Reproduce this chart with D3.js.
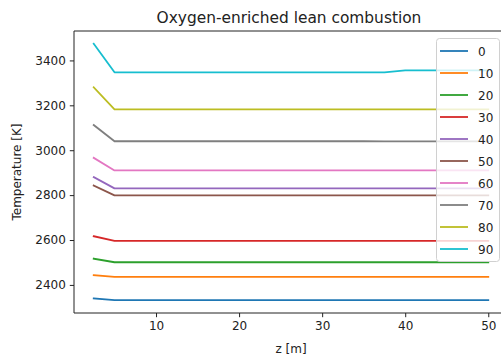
<!DOCTYPE html>
<html>
<head>
<meta charset="utf-8">
<script src="https://cdn.jsdelivr.net/npm/d3@7"></script>
<style>
  body { margin: 0; background: #fff; }
  text { font-family: "DejaVu Sans", sans-serif; fill: #222; }
</style>
</head>
<body>
<div id="chart"></div>
<script>
// axial positions [m]
const zValues = [2.5, 5, 7.5, 10, 12.5, 15, 17.5, 20, 22.5, 25, 27.5, 30, 32.5, 35, 37.5, 40, 42.5, 45, 47.5, 50];

// O2 enrichment levels (legend labels)
const labels = ["0", "10", "20", "30", "40", "50", "60", "70", "80", "90"];

// temperature [K] per enrichment level
const t0  = [2340, 2332, 2332, 2332, 2332, 2332, 2332, 2332, 2332, 2332, 2332, 2332, 2332, 2332, 2332, 2332, 2332, 2332, 2332, 2332];
const t10 = [2443, 2436, 2436, 2436, 2436, 2436, 2436, 2436, 2436, 2436, 2436, 2436, 2436, 2436, 2436, 2436, 2436, 2436, 2436, 2436];
const t20 = [2517, 2501, 2501, 2501, 2501, 2501, 2501, 2501, 2501, 2501, 2501, 2501, 2501, 2501, 2501, 2501, 2501, 2501, 2501, 2501];
const t30 = [2617, 2596, 2596, 2596, 2596, 2596, 2596, 2596, 2596, 2596, 2596, 2596, 2596, 2596, 2596, 2596, 2596, 2596, 2596, 2596];
const t40 = [2880, 2830, 2830, 2830, 2830, 2830, 2830, 2830, 2830, 2830, 2830, 2830, 2830, 2830, 2830, 2830, 2830, 2830, 2830, 2830];
const t50 = [2843, 2799, 2799, 2799, 2799, 2799, 2799, 2799, 2799, 2799, 2799, 2799, 2799, 2799, 2799, 2799, 2799, 2799, 2799, 2799];
const t60 = [2966, 2910, 2910, 2910, 2910, 2910, 2910, 2910, 2910, 2910, 2910, 2910, 2910, 2910, 2910, 2910, 2910, 2910, 2910, 2910];
const t70 = [3112, 3040, 3040, 3040, 3040, 3040, 3040, 3040, 3040, 3040, 3040, 3040, 3040, 3040, 3039, 3039, 3039, 3039, 3039, 3039];
const t80 = [3280, 3182, 3182, 3182, 3182, 3182, 3182, 3182, 3182, 3182, 3182, 3182, 3182, 3182, 3182, 3182, 3182, 3182, 3182, 3182];
const t90 = [3474, 3347, 3347, 3347, 3347, 3347, 3347, 3347, 3347, 3347, 3347, 3347, 3347, 3347, 3347, 3356, 3356, 3356, 3356, 3356];

const seriesValues = [t0, t10, t20, t30, t40, t50, t60, t70, t80, t90];

const xTicks = [10, 20, 30, 40, 50];
const yTicks = [2400, 2600, 2800, 3000, 3200, 3400];

const colors = ["#1f77b4", "#ff7f0e", "#2ca02c", "#d62728", "#9467bd",
                "#8c564b", "#e377c2", "#7f7f7f", "#bcbd22", "#17becf"];

const width = 501, height = 356;
const margin = { top: 31, right: -7, bottom: 43, left: 74 };
const innerW = width - margin.left - margin.right;
const innerH = height - margin.top - margin.bottom;

const svg = d3.select("#chart")
  .append("svg")
  .attr("width", width)
  .attr("height", height);

// matplotlib style 5% padding on both axes
const xExt = d3.extent(zValues);
const xPad = (xExt[1] - xExt[0]) * 0.05;
const allT = seriesValues.flat();
const yExt = d3.extent(allT);
const yPad = (yExt[1] - yExt[0]) * 0.05;

const x = d3.scaleLinear()
  .domain([xExt[0] - xPad, xExt[1] + xPad])
  .range([0, innerW]);

const y = d3.scaleLinear()
  .domain([yExt[0] - yPad, yExt[1] + yPad])
  .range([innerH, 0]);

const g = svg.append("g")
  .attr("transform", `translate(${margin.left},${margin.top})`);

// lines
const line = d3.line()
  .x((d, i) => x(zValues[i]))
  .y(d => y(d));

g.selectAll(".series")
  .data(seriesValues)
  .enter()
  .append("path")
  .attr("class", "series")
  .attr("d", line)
  .attr("fill", "none")
  .attr("stroke", (d, i) => colors[i])
  .attr("stroke-width", 1.8)
  .attr("stroke-linejoin", "round")
  .attr("stroke-linecap", "square");

// axes
const fmt = d3.format("d");
const xAxis = g.append("g")
  .attr("transform", `translate(0,${innerH})`)
  .call(d3.axisBottom(x).tickValues(xTicks).tickFormat(fmt).tickSize(4.2).tickPadding(4));

const yAxis = g.append("g")
  .call(d3.axisLeft(y).tickValues(yTicks).tickFormat(fmt).tickSize(4.2).tickPadding(4));

[xAxis, yAxis].forEach(a => {
  a.select(".domain").remove();
  a.selectAll("line").attr("stroke", "#222").attr("stroke-width", 1);
  a.selectAll("text")
    .attr("font-size", 12)
    .attr("font-family", "DejaVu Sans, sans-serif")
    .attr("fill", "#222");
});

// spines
g.append("line").attr("x1", 0).attr("x2", 0).attr("y1", 0).attr("y2", innerH)
  .attr("stroke", "#222").attr("stroke-width", 1);
g.append("line").attr("x1", 0).attr("x2", innerW).attr("y1", innerH).attr("y2", innerH)
  .attr("stroke", "#222").attr("stroke-width", 1);
g.append("line").attr("x1", 0).attr("x2", innerW).attr("y1", 0).attr("y2", 0)
  .attr("stroke", "#222").attr("stroke-width", 1);

// title and labels
svg.append("text")
  .attr("x", margin.left + innerW / 2 - 2)
  .attr("y", 23)
  .attr("text-anchor", "middle")
  .attr("font-size", 15.4)
  .text("Oxygen-enriched lean combustion");

svg.append("text")
  .attr("x", margin.left + innerW / 2)
  .attr("y", 353)
  .attr("text-anchor", "middle")
  .attr("font-size", 12)
  .text("z [m]");

svg.append("text")
  .attr("transform", `translate(21,${margin.top + innerH / 2}) rotate(-90)`)
  .attr("text-anchor", "middle")
  .attr("font-size", 12)
  .text("Temperature [K]");

// legend
const legend = svg.append("g").attr("transform", "translate(436,38)");
legend.append("rect")
  .attr("x", 0.5).attr("y", 0.5)
  .attr("width", 63).attr("height", 223)
  .attr("rx", 3)
  .attr("fill", "white")
  .attr("fill-opacity", 0.8)
  .attr("stroke", "#d0d0d0")
  .attr("stroke-width", 1);

const items = legend.selectAll(".item")
  .data(labels)
  .enter()
  .append("g")
  .attr("class", "item")
  .attr("transform", (d, i) => `translate(0,${13 + i * 22})`);

items.append("line")
  .attr("x1", 4).attr("x2", 32)
  .attr("stroke", (d, i) => colors[i])
  .attr("stroke-width", 1.8);

items.append("text")
  .attr("x", 42)
  .attr("y", 4.5)
  .attr("font-size", 12)
  .text(d => d);
</script>
</body>
</html>
